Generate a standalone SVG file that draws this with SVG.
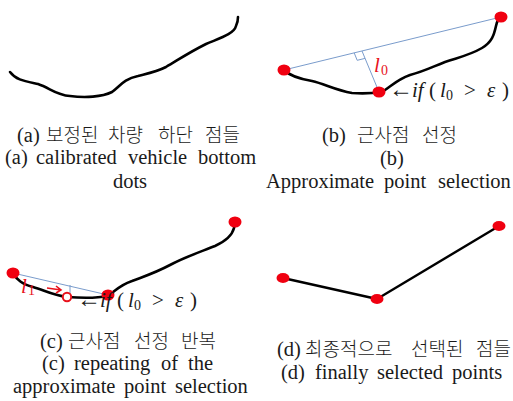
<svg xmlns="http://www.w3.org/2000/svg" width="513" height="401" viewBox="0 0 513 401">
<style>
.cap{font-family:"Liberation Serif","Noto Sans CJK KR",serif;font-size:20.5px;fill:#1a1a1a}
.ko{font-family:"Noto Sans CJK KR","Liberation Serif",sans-serif;font-size:19px;font-weight:300}
.curve{fill:none;stroke:#000;stroke-width:2.6;stroke-linecap:round;stroke-linejoin:round}
.seg{fill:none;stroke:#000;stroke-width:2.4;stroke-linecap:round}
.aux{fill:none;stroke:#7a9ccc;stroke-width:1}
.dot{fill:#f00010}
.math{font-family:"Liberation Serif",serif;font-size:21px;fill:#1a1a1a}
.it{font-style:italic}
.sub{font-size:14px}
.red{fill:#e8121c}
</style>
<rect width="513" height="401" fill="#fff"/>

<g id="panel-a">
<path class="curve" d="M10,72 C16,80 24,81 38,84 C50,88 56,95 70,96 C85,98 102,97 112,92 C120,86 124,79 138,76 C150,73 156,72 166,67 C178,60 188,53 206,44 C220,38 234,34 236,26 C238,22 238,19 238,17"/>
<text class="cap" y="142"><tspan x="17">(a)</tspan><tspan class="ko" x="46">보정된</tspan><tspan class="ko" x="108">차량</tspan><tspan class="ko" x="158">하단</tspan><tspan class="ko" x="205">점들</tspan></text>
<text class="cap" y="164"><tspan x="5">(a)</tspan><tspan x="36">calibrated</tspan><tspan x="128">vehicle</tspan><tspan x="198">bottom</tspan></text>
<text class="cap" x="130" y="188" text-anchor="middle">dots</text>
</g>

<g id="panel-b">
<path class="curve" d="M284,70 C290,76 300,79 312,81 C325,84 335,90 352,93 C365,94 375,93 382,92 C392,86 396,80 410,75 C425,71 432,67 445,62 C460,57 470,55 482,48 C492,42 494,35 496,26 C497,21 499,18 501,17"/>
<line class="aux" x1="284" y1="70" x2="501" y2="17"/>
<line class="aux" x1="362" y1="51" x2="379" y2="92"/>
<polyline class="aux" points="354.2,52.9 357.2,60.3 365,58.4"/>
<ellipse class="dot" cx="284" cy="70" rx="6.5" ry="5.5"/>
<ellipse class="dot" cx="379" cy="92" rx="6.5" ry="5.5"/>
<ellipse class="dot" cx="501" cy="17" rx="6.5" ry="5.5"/>
<text class="math red" x="374" y="72"><tspan class="it">l</tspan><tspan class="sub" x="381" y="75">0</tspan></text>
<text class="math" y="97"><tspan x="389" font-size="24">←</tspan><tspan class="it" x="412">if</tspan><tspan x="429">(</tspan><tspan class="it" x="440">l</tspan><tspan class="sub" x="446" y="100">0</tspan><tspan x="464" y="97">&gt;</tspan><tspan class="it" x="487">ε</tspan><tspan x="502">)</tspan></text>
<text class="cap" y="142"><tspan x="322">(b)</tspan><tspan class="ko" x="357">근사점</tspan><tspan class="ko" x="422">선정</tspan></text>
<text class="cap" x="392" y="165" text-anchor="middle">(b)</text>
<text class="cap" y="188"><tspan x="266">Approximate</tspan><tspan x="384">point</tspan><tspan x="438">selection</tspan></text>
</g>

<g id="panel-c">
<path class="curve" d="M13,273 C17,280 22,284 33,287 C44,290 52,295 67,297 C80,298 98,298 108,296 C116,290 120,285 132,281 C145,276 155,273 170,265 C185,257 200,252 215,246 C226,241 232,236 234,228 C235,225 235,223 235,222"/>
<line class="aux" x1="13" y1="273" x2="108" y2="295"/>
<line class="aux" x1="70" y1="285" x2="70" y2="293"/>
<ellipse class="dot" cx="13" cy="273" rx="6.5" ry="5.5"/>
<ellipse class="dot" cx="108" cy="295" rx="6.5" ry="5.5"/>
<ellipse class="dot" cx="235" cy="222" rx="6.5" ry="5.5"/>
<circle cx="67" cy="297" r="4.2" fill="#fff" stroke="#e8121c" stroke-width="2"/>
<path d="M47,288 L61,290 M56,286 L61,290 L56,293" fill="none" stroke="#e8121c" stroke-width="1.6"/>
<text class="math red" x="21" y="293"><tspan class="it">l</tspan><tspan class="sub" x="28" y="295">1</tspan></text>
<text class="math" y="307"><tspan x="77" font-size="24">←</tspan><tspan class="it" x="100">if</tspan><tspan x="117">(</tspan><tspan class="it" x="128">l</tspan><tspan class="sub" x="134" y="310">0</tspan><tspan x="152" y="307">&gt;</tspan><tspan class="it" x="175">ε</tspan><tspan x="190">)</tspan></text>
<text class="cap" y="348"><tspan x="40">(c)</tspan><tspan class="ko" x="68">근사점</tspan><tspan class="ko" x="134">선정</tspan><tspan class="ko" x="181">반복</tspan></text>
<text class="cap" y="370"><tspan x="42">(c)</tspan><tspan x="74">repeating</tspan><tspan x="161">of</tspan><tspan x="188">the</tspan></text>
<text class="cap" y="393"><tspan x="13">approximate</tspan><tspan x="124">point</tspan><tspan x="175">selection</tspan></text>
</g>

<g id="panel-d">
<line class="seg" x1="283" y1="278" x2="377" y2="299"/>
<line class="seg" x1="377" y1="299" x2="499" y2="226"/>
<ellipse class="dot" cx="283" cy="278" rx="6.5" ry="5"/>
<ellipse class="dot" cx="377" cy="299" rx="6.5" ry="5"/>
<ellipse class="dot" cx="499" cy="226" rx="6.5" ry="5"/>
<text class="cap" y="356"><tspan x="277">(d)</tspan><tspan class="ko" x="305">최종적으로</tspan><tspan class="ko" x="411">선택된</tspan><tspan class="ko" x="476">점들</tspan></text>
<text class="cap" y="379"><tspan x="281">(d)</tspan><tspan x="315">finally</tspan><tspan x="377">selected</tspan><tspan x="452">points</tspan></text>
</g>
</svg>
